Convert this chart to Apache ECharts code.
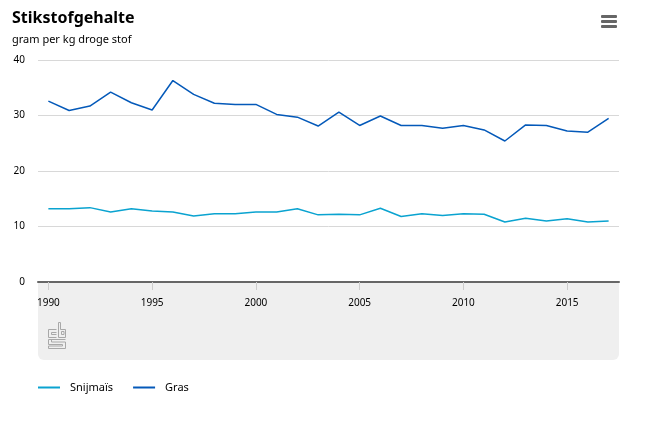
<!DOCTYPE html>
<html>
<head>
<meta charset="utf-8">
<script src="https://cdn.jsdelivr.net/npm/echarts@6/dist/echarts.min.js"></script>
<style>html,body{margin:0;padding:0;background:#fff}#c{width:652px;height:421px}</style>
</head>
<body>
<div id="c"></div>
<script>
var years = ['1990','1991','1992','1993','1994','1995','1996','1997','1998','1999','2000','2001','2002','2003','2004','2005','2006','2007','2008','2009','2010','2011','2012','2013','2014','2015','2016','2017'];
var snijmais = [13.2,13.2,13.4,12.6,13.2,12.8,12.6,11.9,12.3,12.3,12.6,12.6,13.2,12.1,12.2,12.1,13.3,11.8,12.3,12.0,12.3,12.2,10.8,11.5,11.0,11.4,10.8,11.0];
var gras = [32.6,30.9,31.7,34.2,32.3,31.0,36.3,33.8,32.2,32.0,32.0,30.2,29.7,28.1,30.6,28.2,29.9,28.2,28.2,27.7,28.2,27.4,25.4,28.3,28.2,27.2,27.0,29.5];
var yTicks = [0,10,20,30,40];

var font = "'Noto Sans', 'Open Sans', sans-serif";
var chart = echarts.init(document.getElementById('c'));
var ls = {stroke:'#a8a8a8', lineWidth:1, fill:null};
chart.setOption({
  animation:false,
  backgroundColor:'#fff',
  title:{
    text:'Stikstofgehalte', left:7, top:5,
    textStyle:{fontFamily:font, fontSize:16, fontWeight:'bold', color:'#000'},
    subtext:'gram per kg droge stof', itemGap:8,
    subtextStyle:{fontFamily:font, fontSize:11, color:'#000'}
  },
  legend:{
    left:33, top:377, itemWidth:22, itemHeight:2, itemGap:20, icon:'rect',
    textStyle:{fontFamily:font, fontSize:11, color:'#000', padding:[0,0,0,5]},
    data:['Snijmaïs','Gras']
  },
  grid:{left:38, right:33, top:60, bottom:139, containLabel:false},
  xAxis:{
    type:'category', data:years, boundaryGap:true,
    axisLine:{lineStyle:{color:'#666', width:2}},
    axisTick:{show:true, alignWithLabel:true, interval:4, length:8, lineStyle:{color:'#ccc'}},
    axisLabel:{interval:4, margin:16, fontFamily:font, fontSize:10, color:'#000'},
    splitLine:{show:false}
  },
  yAxis:{
    type:'value', min:yTicks[0], max:yTicks[yTicks.length-1], interval:10,
    axisLine:{show:false}, axisTick:{show:false},
    axisLabel:{fontFamily:font, fontSize:10, color:'#000', margin:13, padding:[3,0,0,0]},
    splitLine:{lineStyle:{color:'#d8d8d8', width:1}}
  },
  series:[
    {name:'Snijmaïs', type:'line', data:snijmais, symbol:'none', color:'#0aa3d0', lineStyle:{width:1.5, color:'#0aa3d0'}},
    {name:'Gras', type:'line', data:gras, symbol:'none', color:'#0459b9', lineStyle:{width:1.5, color:'#0459b9'}}
  ],
  graphic:[
    {type:'rect', z:-10, shape:{x:38, y:282, width:581, height:78, r:[0,0,6,6]}, style:{fill:'#efefef'}},
    {type:'rect', shape:{x:601, y:15, width:16, height:3, r:1}, style:{fill:'#666'}},
    {type:'rect', shape:{x:601, y:20, width:16, height:3, r:1}, style:{fill:'#666'}},
    {type:'rect', shape:{x:601, y:25, width:16, height:3, r:1}, style:{fill:'#666'}},
    {type:'group', children:[
      {type:'polyline', shape:{points:[[56.5,329.5],[48.5,329.5],[48.5,337.5],[56.5,337.5]]}, style:ls},
      {type:'polyline', shape:{points:[[56.5,332.5],[51.5,332.5],[51.5,334.5],[56.5,334.5]]}, style:ls},
      {type:'polyline', shape:{points:[[58.5,337.5],[58.5,322.5],[60.5,322.5],[60.5,329.5],[65.5,329.5],[65.5,337.5],[58.5,337.5]]}, style:ls},
      {type:'rect', shape:{x:61.5, y:331.5, width:2.5, height:3}, style:ls},
      {type:'polyline', shape:{points:[[65.5,339.5],[48.5,339.5],[48.5,344.5],[62.5,344.5],[62.5,346],[48.5,346],[48.5,348.5],[65.5,348.5],[65.5,342],[51.5,342],[51.5,339.5]]}, style:ls}
    ]}
  ]
});
</script>
</body>
</html>
